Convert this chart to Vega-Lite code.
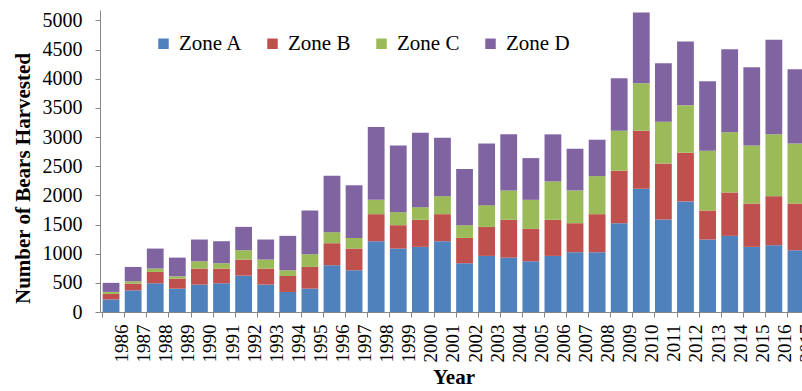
{
  "$schema": "https://vega.github.io/schema/vega-lite/v6.json",
  "width": 702,
  "height": 302,
  "autosize": {"type": "none"},
  "padding": {"left": 100, "top": 10, "right": 0, "bottom": 79},
  "background": "white",
  "config": {
    "view": {"stroke": null},
    "font": "Liberation Serif",
    "axis": {"labelFont": "Liberation Serif", "titleFont": "Liberation Serif", "labelColor": "black", "titleColor": "black", "labelFontSize": 20},
    "legend": {"labelFont": "Liberation Serif"},
    "style": {"guide-label": {"font": "Liberation Serif", "fontSize": 20, "fill": "black"}}
  },
  "data": {
    "values": [
      {"year": "1986", "zone": "Zone A", "count": 215}, {"year": "1986", "zone": "Zone B", "count": 95}, {"year": "1986", "zone": "Zone C", "count": 35}, {"year": "1986", "zone": "Zone D", "count": 155},
      {"year": "1987", "zone": "Zone A", "count": 372}, {"year": "1987", "zone": "Zone B", "count": 115}, {"year": "1987", "zone": "Zone C", "count": 40}, {"year": "1987", "zone": "Zone D", "count": 246},
      {"year": "1988", "zone": "Zone A", "count": 493}, {"year": "1988", "zone": "Zone B", "count": 194}, {"year": "1988", "zone": "Zone C", "count": 58}, {"year": "1988", "zone": "Zone D", "count": 343},
      {"year": "1989", "zone": "Zone A", "count": 401}, {"year": "1989", "zone": "Zone B", "count": 172}, {"year": "1989", "zone": "Zone C", "count": 40}, {"year": "1989", "zone": "Zone D", "count": 320},
      {"year": "1990", "zone": "Zone A", "count": 470}, {"year": "1990", "zone": "Zone B", "count": 275}, {"year": "1990", "zone": "Zone C", "count": 125}, {"year": "1990", "zone": "Zone D", "count": 373},
      {"year": "1991", "zone": "Zone A", "count": 493}, {"year": "1991", "zone": "Zone B", "count": 252}, {"year": "1991", "zone": "Zone C", "count": 91}, {"year": "1991", "zone": "Zone D", "count": 378},
      {"year": "1992", "zone": "Zone A", "count": 624}, {"year": "1992", "zone": "Zone B", "count": 275}, {"year": "1992", "zone": "Zone C", "count": 161}, {"year": "1992", "zone": "Zone D", "count": 400},
      {"year": "1993", "zone": "Zone A", "count": 470}, {"year": "1993", "zone": "Zone B", "count": 275}, {"year": "1993", "zone": "Zone C", "count": 154}, {"year": "1993", "zone": "Zone D", "count": 344},
      {"year": "1994", "zone": "Zone A", "count": 344}, {"year": "1994", "zone": "Zone B", "count": 274}, {"year": "1994", "zone": "Zone C", "count": 98}, {"year": "1994", "zone": "Zone D", "count": 590},
      {"year": "1995", "zone": "Zone A", "count": 401}, {"year": "1995", "zone": "Zone B", "count": 372}, {"year": "1995", "zone": "Zone C", "count": 218}, {"year": "1995", "zone": "Zone D", "count": 750},
      {"year": "1996", "zone": "Zone A", "count": 802}, {"year": "1996", "zone": "Zone B", "count": 378}, {"year": "1996", "zone": "Zone C", "count": 189}, {"year": "1996", "zone": "Zone D", "count": 968},
      {"year": "1997", "zone": "Zone A", "count": 716}, {"year": "1997", "zone": "Zone B", "count": 372}, {"year": "1997", "zone": "Zone C", "count": 183}, {"year": "1997", "zone": "Zone D", "count": 905},
      {"year": "1998", "zone": "Zone A", "count": 1214}, {"year": "1998", "zone": "Zone B", "count": 464}, {"year": "1998", "zone": "Zone C", "count": 246}, {"year": "1998", "zone": "Zone D", "count": 1249},
      {"year": "1999", "zone": "Zone A", "count": 1088}, {"year": "1999", "zone": "Zone B", "count": 401}, {"year": "1999", "zone": "Zone C", "count": 223}, {"year": "1999", "zone": "Zone D", "count": 1146},
      {"year": "2000", "zone": "Zone A", "count": 1117}, {"year": "2000", "zone": "Zone B", "count": 464}, {"year": "2000", "zone": "Zone C", "count": 217}, {"year": "2000", "zone": "Zone D", "count": 1277},
      {"year": "2001", "zone": "Zone A", "count": 1214}, {"year": "2001", "zone": "Zone B", "count": 464}, {"year": "2001", "zone": "Zone C", "count": 309}, {"year": "2001", "zone": "Zone D", "count": 1002},
      {"year": "2002", "zone": "Zone A", "count": 836}, {"year": "2002", "zone": "Zone B", "count": 435}, {"year": "2002", "zone": "Zone C", "count": 218}, {"year": "2002", "zone": "Zone D", "count": 962},
      {"year": "2003", "zone": "Zone A", "count": 962}, {"year": "2003", "zone": "Zone B", "count": 498}, {"year": "2003", "zone": "Zone C", "count": 373}, {"year": "2003", "zone": "Zone D", "count": 1059},
      {"year": "2004", "zone": "Zone A", "count": 933}, {"year": "2004", "zone": "Zone B", "count": 648}, {"year": "2004", "zone": "Zone C", "count": 504}, {"year": "2004", "zone": "Zone D", "count": 962},
      {"year": "2005", "zone": "Zone A", "count": 870}, {"year": "2005", "zone": "Zone B", "count": 556}, {"year": "2005", "zone": "Zone C", "count": 498}, {"year": "2005", "zone": "Zone D", "count": 716},
      {"year": "2006", "zone": "Zone A", "count": 962}, {"year": "2006", "zone": "Zone B", "count": 619}, {"year": "2006", "zone": "Zone C", "count": 658}, {"year": "2006", "zone": "Zone D", "count": 808},
      {"year": "2007", "zone": "Zone A", "count": 1025}, {"year": "2007", "zone": "Zone B", "count": 498}, {"year": "2007", "zone": "Zone C", "count": 562}, {"year": "2007", "zone": "Zone D", "count": 715},
      {"year": "2008", "zone": "Zone A", "count": 1025}, {"year": "2008", "zone": "Zone B", "count": 653}, {"year": "2008", "zone": "Zone C", "count": 653}, {"year": "2008", "zone": "Zone D", "count": 624},
      {"year": "2009", "zone": "Zone A", "count": 1523}, {"year": "2009", "zone": "Zone B", "count": 900}, {"year": "2009", "zone": "Zone C", "count": 687}, {"year": "2009", "zone": "Zone D", "count": 899},
      {"year": "2010", "zone": "Zone A", "count": 2113}, {"year": "2010", "zone": "Zone B", "count": 997}, {"year": "2010", "zone": "Zone C", "count": 813}, {"year": "2010", "zone": "Zone D", "count": 1214},
      {"year": "2011", "zone": "Zone A", "count": 1586}, {"year": "2011", "zone": "Zone B", "count": 963}, {"year": "2011", "zone": "Zone C", "count": 715}, {"year": "2011", "zone": "Zone D", "count": 1003},
      {"year": "2012", "zone": "Zone A", "count": 1896}, {"year": "2012", "zone": "Zone B", "count": 836}, {"year": "2012", "zone": "Zone C", "count": 813}, {"year": "2012", "zone": "Zone D", "count": 1094},
      {"year": "2013", "zone": "Zone A", "count": 1243}, {"year": "2013", "zone": "Zone B", "count": 498}, {"year": "2013", "zone": "Zone C", "count": 1025}, {"year": "2013", "zone": "Zone D", "count": 1191},
      {"year": "2014", "zone": "Zone A", "count": 1306}, {"year": "2014", "zone": "Zone B", "count": 744}, {"year": "2014", "zone": "Zone C", "count": 1031}, {"year": "2014", "zone": "Zone D", "count": 1426},
      {"year": "2015", "zone": "Zone A", "count": 1117}, {"year": "2015", "zone": "Zone B", "count": 744}, {"year": "2015", "zone": "Zone C", "count": 997}, {"year": "2015", "zone": "Zone D", "count": 1340},
      {"year": "2016", "zone": "Zone A", "count": 1145}, {"year": "2016", "zone": "Zone B", "count": 842}, {"year": "2016", "zone": "Zone C", "count": 1060}, {"year": "2016", "zone": "Zone D", "count": 1621},
      {"year": "2017", "zone": "Zone A", "count": 1059}, {"year": "2017", "zone": "Zone B", "count": 802}, {"year": "2017", "zone": "Zone C", "count": 1031}, {"year": "2017", "zone": "Zone D", "count": 1271}
    ]
  },
  "mark": {"type": "bar", "clip": true},
  "encoding": {
    "x": {
      "field": "year",
      "type": "ordinal",
      "scale": {"range": [0, 707], "paddingInner": 0.24, "paddingOuter": 0.12},
      "axis": {
        "title": "Year",
        "titleFont": "Liberation Serif",
        "titleFontSize": 21,
        "titleFontWeight": "bold",
        "titleColor": "black",
        "titlePadding": 4,
        "labelAngle": -90,
        "labelFont": "Liberation Serif",
        "labelFontSize": 19,
        "labelColor": "black",
        "labelPadding": 7,
        "labelBaseline": "middle",
        "labelAlign": "right",
        "bandPosition": 0,
        "labelOffset": 11,
        "tickSize": 5,
        "tickColor": "#868686",
        "domainColor": "#868686",
        "labelOverlap": false
      }
    },
    "y": {
      "field": "count",
      "type": "quantitative",
      "stack": "zero",
      "scale": {"domain": [0, 5180], "nice": false},
      "axis": {
        "title": "Number of Bears Harvested",
        "titleFont": "Liberation Serif",
        "titleFontSize": 21,
        "titleFontWeight": "bold",
        "titleColor": "black",
        "titleX": -77,
        "titleY": 168,
        "titleAngle": -90,
        "titleAlign": "center",
        "titleBaseline": "middle",
        "values": [0, 500, 1000, 1500, 2000, 2500, 3000, 3500, 4000, 4500, 5000],
        "format": "d",
        "labelFont": "Liberation Serif",
        "labelFontSize": 20,
        "labelColor": "black",
        "labelPadding": 13,
        "tickSize": 5,
        "tickColor": "#868686",
        "domainColor": "#868686",
        "grid": false
      }
    },
    "color": {
      "field": "zone",
      "type": "nominal",
      "scale": {
        "domain": ["Zone A", "Zone B", "Zone C", "Zone D"],
        "range": ["#4F81BD", "#C0504D", "#9BBB59", "#8064A2"]
      },
      "legend": {
        "title": null,
        "orient": "none",
        "legendX": 53,
        "legendY": 23,
        "direction": "horizontal",
        "columns": 4,
        "gridAlign": "all",
        "columnPadding": 19,
        "symbolType": "square",
        "symbolSize": 110,
        "symbolStrokeWidth": 0,
        "labelFont": "Liberation Serif",
        "labelFontSize": 21,
        "labelColor": "black",
        "labelOffset": 5,
        "padding": 0
      }
    },
    "order": {"field": "zone", "sort": "ascending"}
  }
}
